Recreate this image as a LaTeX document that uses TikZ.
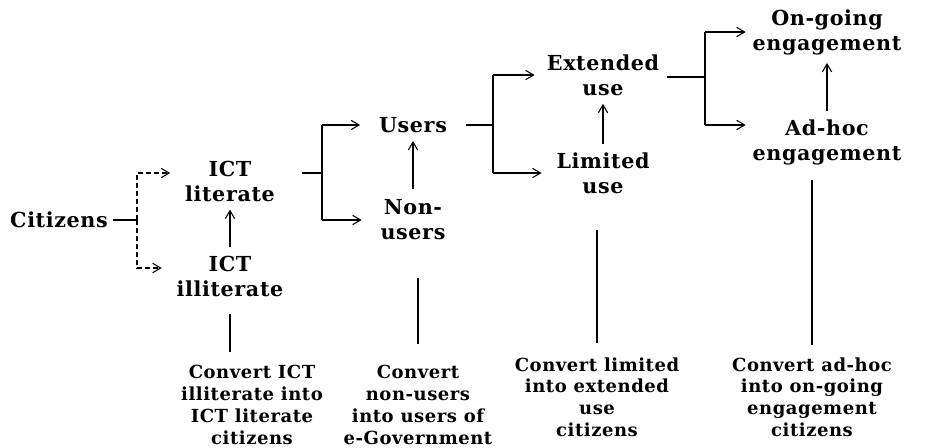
\documentclass[tikz,border=0pt]{standalone}
\usepackage{fontspec}
\setmainfont{DejaVu Serif}[LetterSpace=3]
\usetikzlibrary{positioning,arrows.meta}

\begin{document}
\begin{tikzpicture}[x=0.75pt, y=-0.75pt,
  stage/.style={align=center, inner sep=0pt, font=\fontsize{15.5}{18.75}\selectfont\bfseries},
  goal/.style={align=center, inner sep=0pt, font=\fontsize{13.5}{16.3}\selectfont\bfseries},
  >={Straight Barb[length=6pt, width=7pt]}]
\useasboundingbox (0,0) rectangle (936,447);

\node[stage] at (59.0, 220.0) (cit) {Citizens};
\node[stage] at (230.0, 181.0) (lit) {ICT\\literate};
\node[stage] at (230.0, 276.0) (ill) {ICT\\illiterate};
\node[stage] at (413.0, 125.0) (usr) {Users};
\node[stage] at (413.0, 220.0) (non) {Non-\\users};
\node[stage] at (603.0, 75.0) (ext) {Extended\\use};
\node[stage] at (603.0, 173.0) (lim) {Limited\\use};
\node[stage] at (827.0, 32.0) (ong) {On-going\\engagement};
\node[stage] at (827.0, 142.0) (adh) {Ad-hoc\\engagement};

\node[goal] at (252.0, 405.0) (cvA) {Convert ICT\\illiterate into\\ICT literate\\citizens};
\node[goal] at (418.0, 405.0) (cvB) {Convert\\non-users\\into users of\\e-Government};
\node[goal] at (597.0, 397.0) (cvC) {Convert limited\\into extended\\use\\citizens};
\node[goal] at (812.0, 397.0) (cvD) {Convert ad-hoc\\into on-going\\engagement\\citizens};

\coordinate (j0) at (137.0, 220.0);
\coordinate (j1) at (322.0, 173.0);
\coordinate (j2) at (493.0, 125.0);
\coordinate (j3) at (705.0, 77.0);

% citizens split
\draw[thick, shorten <=4pt] (cit) -- (j0);
\draw[thick, dash pattern=on 3.5pt off 2.5pt, ->, shorten >=11pt] (j0) |- ([yshift=6pt]lit.west);
\draw[thick, dash pattern=on 3.5pt off 2.5pt, ->, shorten >=11pt] (j0) |- ([yshift=6pt]ill.west);
\draw[thick, ->, shorten <=6pt, shorten >=6pt] (ill) -- (lit);

% literate split
\draw[thick, shorten <=20pt] ([yshift=6pt]lit.east) -- (j1);
\draw[line width=1.3pt] (j1 |- usr) -- (j1 |- non);
\draw[thick, ->, shorten >=14pt] (j1 |- usr) -- (usr);
\draw[thick, ->, shorten >=14pt] (j1 |- non) -- (non);
\draw[thick, ->, shorten <=8pt, shorten >=6pt] (non) -- (usr);

% users split
\draw[thick, shorten <=14pt] (usr) -- (j2);
\draw[line width=1.3pt] (j2 |- ext) -- (j2 |- lim);
\draw[thick, ->, shorten >=9pt] (j2 |- ext) -- (ext);
\draw[thick, ->, shorten >=11pt] (j2 |- lim) -- (lim);
\draw[thick, ->, shorten <=6pt, shorten >=6pt] (lim) -- (ext);

% extended split
\draw[thick, shorten <=6pt] ([yshift=-1.5pt]ext.east) -- (j3);
\draw[line width=1.3pt] (j3 |- ong) -- ([yshift=12.75pt]j3 |- adh);
\draw[thick, ->, shorten >=5pt] (j3 |- ong) -- (ong);
\draw[thick, ->, shorten >=5pt] ([yshift=12.75pt]j3 |- adh) -- ([yshift=12.75pt]adh.west);
\draw[thick, ->, shorten <=6pt, shorten >=6pt] (adh) -- (ong);

% conversions
\draw[line width=1.3pt, shorten <=13pt, shorten >=10pt] (ill) -- (ill |- cvA.north);
\draw[line width=1.3pt, shorten <=16pt, shorten >=28pt] (cvB.north) -- (cvB.north |- non.south);
\draw[line width=1.3pt, shorten <=11pt, shorten >=27pt] (cvC.north) -- (cvC.north |- lim.south);
\draw[line width=1.3pt, shorten <=9pt, shorten >=11pt] (cvD.north) -- (cvD.north |- adh.south);

\end{tikzpicture}
\end{document}
